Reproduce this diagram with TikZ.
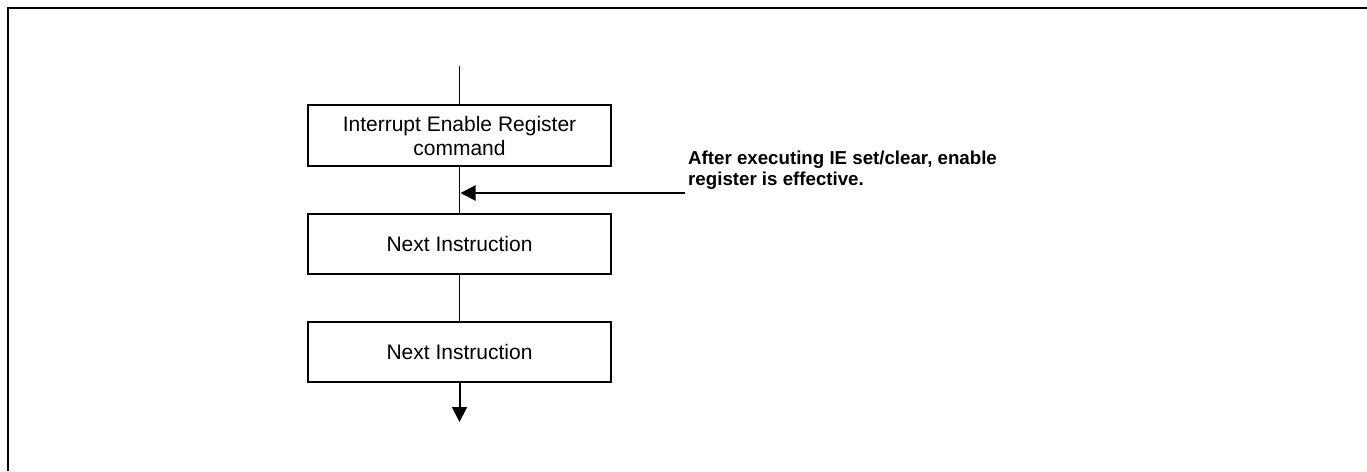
\documentclass[tikz,border=0pt]{standalone}
\usepackage{fontspec}
\setmainfont{Liberation Sans}
\usetikzlibrary{arrows.meta}
\begin{document}
\begin{tikzpicture}[x=1pt,y=-1pt,
  box/.style={draw, line width=2pt, minimum width=303pt, minimum height=60pt, inner sep=0pt, align=center, font=\fontsize{21}{24}\selectfont},
  conn/.style={line width=1.6pt},
  arr/.style={line width=2pt, -{Triangle[length=15pt,width=15pt]}},
  note/.style={inner xsep=3pt, inner ysep=0pt, align=left, font=\fontsize{18.7}{21}\selectfont\bfseries}]
\useasboundingbox (0,0) rectangle (1367,471);
\draw[line width=1.8pt] (8,471) -- (8,8) -- (1367,8);
\node[box, minimum height=61pt] (b1) at (459.5,135.5) {Interrupt Enable Register\\command};
\node[box] (b2) at (459.5,244) {Next Instruction};
\node[box] (b3) at (459.5,352) {Next Instruction};
\coordinate (top) at (459.5,66);
\coordinate (end) at (459.5,422);
\coordinate (hit) at (460.5,193);
\draw[conn] (top) -- (b1.north);
\draw[conn] (b1.south) -- (b2.north);
\draw[conn] (b2.south) -- (b3.north);
\draw[arr] (b3.south) -- (end);
\node[note, anchor=base west] (n) at (685,185) {After executing IE set/clear, enable\\register is effective.};
\draw[arr] (hit -| n.west) -- (hit);
\end{tikzpicture}
\end{document}
